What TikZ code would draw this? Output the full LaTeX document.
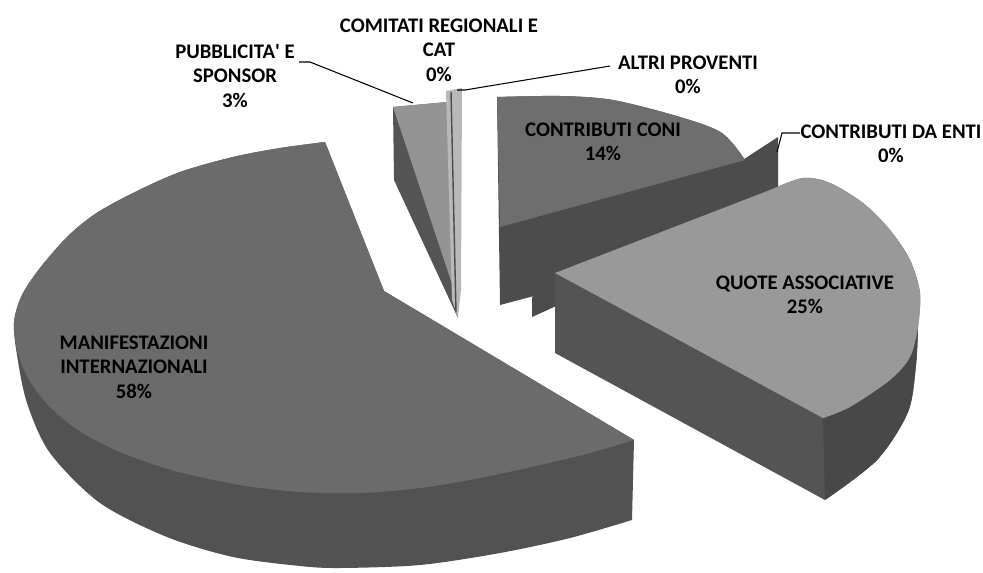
\documentclass[tikz,border=0pt]{standalone}
\usepackage{fontspec}
\setmainfont{Carlito}
\usepackage{tikz}
\definecolor{manitop}{gray}{0.42}
\definecolor{maniside}{gray}{0.32}
\definecolor{quotetop}{gray}{0.6}
\definecolor{quoteside}{gray}{0.33}
\definecolor{conitop}{gray}{0.43}
\definecolor{coniside}{gray}{0.3}
\definecolor{pubtop}{gray}{0.58}
\definecolor{pubside}{gray}{0.33}
\definecolor{sliver}{gray}{0.72}

\begin{document}
\begin{tikzpicture}[x=0.02cm,y=-0.02cm,
        lab/.style={align=center,inner sep=0pt,font=\fontsize{11.8}{13.9}\selectfont\bfseries},
        leader/.style={line width=0.6pt}]
    \useasboundingbox (0,0) rectangle (983,572);

    % contributi da enti (0%), mostly hidden
    \fill[coniside] (532,297) -- (778,137) -- (778,205) -- (532,317) -- cycle;

    % contributi coni
    \fill[coniside] (497,97) -- plot[smooth] coordinates {(497,97) (560,96) (613,100) (680,117) (722,133) (745,160)}
        -- (745,240) -- (500,305) -- cycle;
    \fill[conitop] (497,97) -- plot[smooth] coordinates {(497,97) (560,96) (613,100) (680,117) (722,133) (745,160)}
        -- (500,227) -- cycle;

    % quote associative
    \fill[quoteside] (555,273) -- (770,190) -- plot[smooth] coordinates {(770,190) (803,178) (830,183) (863,203) (890,230) (910,260) (920,293) (918,327)}
        -- plot[smooth] coordinates {(918,327) (916,365) (908,412) (877,460) (825,500)} -- (555,353) -- cycle;
    \fill[quoteside!85!black] (823,418) -- plot[smooth] coordinates {(823,418) (850,407) (890,380) (910,357) (918,327)}
        -- plot[smooth] coordinates {(918,327) (916,365) (908,412) (877,460) (825,500)} -- cycle;
    \fill[quotetop] (555,273) -- (770,190) -- plot[smooth] coordinates {(770,190) (803,178) (830,183) (863,203) (890,230) (910,260) (920,293) (918,327) (910,357) (890,380) (850,407) (823,418)} -- cycle;

    % manifestazioni internazionali
    \fill[maniside] (384,291) -- plot[smooth] coordinates {(325,142) (280,148) (233,157) (180,172) (133,193) (95,214) (67,237) (40,268) (22,295) (14,322)
        (17,355) (27,403) (50,453) (100,503) (167,537) (233,557) (300,566) (340,568) (420,565) (500,553) (570,538) (632,520)}
        -- (634,440) -- cycle;
    \fill[manitop] (384,291) -- plot[smooth] coordinates {(325,142) (280,148) (233,157) (180,172) (133,193) (95,214) (67,237) (40,268) (22,295) (14,322)
        (17,350) (28,378) (48,405) (78,430) (120,452) (175,471) (240,485) (300,492) (360,493) (420,488) (480,478) (540,465) (590,453) (634,440)} -- cycle;

    % pubblicita' e sponsor
    \fill[pubside] (393,107) -- (447,102) -- (458,318) -- (394,180) -- cycle;
    \fill[pubtop] (393,107) -- (447,102) -- (455,293) -- cycle;

    % comitati regionali e cat / altri proventi
    \fill[sliver] (446,91) -- (462,88) -- (461,290) -- (458,318) -- (452,300) -- cycle;
    \draw[line width=0.8pt,black!70] (451,92) -- (456,312);

    % labels
    \node[lab] (comlab) at (439,50) {COMITATI REGIONALI E\\CAT\\0\%};
    \node[lab] (publab) at (235,76) {PUBBLICITA\textquotesingle\ E\\SPONSOR\\3\%};
    \node[lab] (altlab) at (688,75) {ALTRI PROVENTI\\0\%};
    \node[lab] (entilab) at (891,144) {CONTRIBUTI DA ENTI\\0\%};
    \node[lab] (conilab) at (603,142) {CONTRIBUTI CONI\\14\%};
    \node[lab] (quotelab) at (805,295) {QUOTE ASSOCIATIVE\\25\%};
    \node[lab] (manilab) at (134,367) {MANIFESTAZIONI\\INTERNAZIONALI\\58\%};

    % leaders
    \coordinate (pubhook) at (299,62);
    \coordinate (pubrim) at (413,103);
    \coordinate (althook) at (610,66);
    \coordinate (altrim) at (457,90);
    \coordinate (entihook) at (800,133);
    \coordinate (entirim) at (777,152);
    \draw[leader] (pubhook) -- ++(11,0) -- (pubrim);
    \draw[leader] (althook) -- (465,90) -- (altrim);
    \draw[leader] (entihook) -- ++(-18,0) -- (entirim);
\end{tikzpicture}
\end{document}
